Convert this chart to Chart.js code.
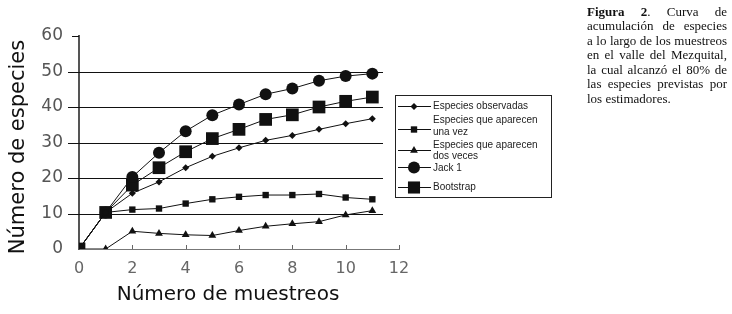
<!DOCTYPE html>
<html><head><meta charset="utf-8">
<script src="https://cdn.jsdelivr.net/npm/chart.js@4/dist/chart.umd.min.js"></script>
<style>
html,body{margin:0;padding:0;background:#fff;}
#wrap{position:relative;width:732px;height:314px;overflow:hidden;}
#c{position:absolute;left:0;top:0;}
#cap{position:absolute;left:587px;top:4.5px;width:140px;font-family:"Liberation Serif";font-size:13px;line-height:14.5px;color:#111;}
#cap div{text-align:justify;text-align-last:justify;white-space:nowrap;}
#cap div.last{text-align:left;text-align-last:left;}
</style></head>
<body><div id="wrap"><canvas id="c" width="732" height="314"></canvas><div id="cap"></div></div>
<script>
// ---- data ----
const muestreos = [0,1,2,3,4,5,6,7,8,9,10,11];
const observadas = [0,10.3,15.7,18.9,22.9,26.1,28.5,30.6,32.0,33.7,35.3,36.7];
const unaVez     = [0,10.3,11.1,11.4,12.8,14.0,14.7,15.2,15.2,15.5,14.5,14.0];
const dosVeces   = [0,0,5.0,4.4,4.0,3.8,5.2,6.4,7.1,7.7,9.6,10.8];
const jack1      = [0,10.3,20.3,27.1,33.2,37.7,40.7,43.6,45.2,47.4,48.7,49.4];
const bootstrap  = [0,10.3,18.0,22.9,27.4,31.1,33.7,36.5,37.8,40.0,41.6,42.8];
const yTicks = [0,10,20,30,40,50,60];
const xTicks = [0,2,4,6,8,10,12];
const serieNames = ["Especies observadas","Especies que aparecen una vez","Especies que aparecen dos veces","Jack 1","Bootstrap"];
const legendLines = [["Especies observadas"],["Especies que aparecen","una vez"],["Especies que aparecen","dos veces"],["Jack 1"],["Bootstrap"]];
const xTitle = "Número de muestreos";
const yTitle = "Número de especies";
const captionLines = ["<b>Figura 2</b>. Curva de","acumulación de especies","a lo largo de los muestreos","en el valle del Mezquital,","la cual alcanzó el 80% de","las especies previstas por","los estimadores."];

// caption (justified lines; over-long lines tightened to fit)
const cap = document.getElementById('cap');
captionLines.forEach((t,i)=>{
  const d=document.createElement('div');
  const s=document.createElement('span');
  s.innerHTML=t;
  d.appendChild(s);
  if(i===captionLines.length-1) d.className='last';
  cap.appendChild(d);
  const w=s.getBoundingClientRect().width;
  if(w>140){
    const n=s.textContent.length;
    d.style.letterSpacing=((140-w)/n).toFixed(3)+'px';
  }
});

const seriesValues = [observadas, unaVez, dosVeces, jack1, bootstrap];
const styles = [
  {pointStyle:'rectRot', radius:3.5},
  {pointStyle:'rect', radius:4.5},
  {pointStyle:'triangle', radius:4.5},
  {pointStyle:'circle', radius:6},
  {pointStyle:'rect', radius:9}
];
const datasets = seriesValues.map((vals,i)=>({
  label: serieNames[i],
  data: muestreos.map((m,j)=>({x:m,y:vals[j]})),
  borderColor:'#111', backgroundColor:'#111', borderWidth:1,
  pointStyle: styles[i].pointStyle, pointRadius: styles[i].radius,
  pointBackgroundColor:'#111', pointBorderColor:'#111', pointBorderWidth:0,
  tension:0, fill:false
}));

const F = "'DejaVu Sans'";
const decor = {
  id:'decor',
  beforeDatasetsDraw(chart){
    const {ctx, chartArea:a, scales:{x,y}} = chart;
    ctx.save();
    ctx.strokeStyle='#111'; ctx.lineWidth=1;
    yTicks.forEach(v=>{
      const py=Math.round(y.getPixelForValue(v))+0.5;
      if(v>0 && v<60){
        ctx.beginPath(); ctx.moveTo(a.left-11,py); ctx.lineTo(x.getPixelForValue(11.4),py); ctx.stroke();
      } else if(v===60){
        ctx.beginPath(); ctx.moveTo(a.left-7,py); ctx.lineTo(a.left,py); ctx.stroke();
      }
    });
    ctx.strokeStyle='#666';
    xTicks.forEach(v=>{
      if(v===0) return;
      const px=Math.round(x.getPixelForValue(v))+0.5;
      const py=y.getPixelForValue(0);
      ctx.beginPath(); ctx.moveTo(px,py); ctx.lineTo(px,py-4); ctx.stroke();
    });
    ctx.restore();
  },
  afterDraw(chart){
    const {ctx, chartArea:a} = chart;
    ctx.save();
    // axis titles
    ctx.fillStyle='#111';
    ctx.font="20px "+F;
    ctx.textAlign='center'; ctx.textBaseline='middle';
    ctx.fillText(xTitle, 228, 295);
    ctx.translate(19,147); ctx.rotate(-Math.PI/2);
    ctx.font="21px "+F;
    ctx.fillText(yTitle,0,0);
    ctx.setTransform(1,0,0,1,0,0);
    // legend
    const bx=395.5, by=95.5, bw=156, bh=102;
    ctx.fillStyle='#fff'; ctx.fillRect(bx,by,bw,bh);
    ctx.strokeStyle='#222'; ctx.lineWidth=1; ctx.strokeRect(bx,by,bw,bh);
    const markerY=[106,129,150,167,187];
    const textY=[[106],[120,132],[145,156],[168],[187]];
    ctx.font="10px 'Liberation Sans'"; ctx.textAlign='left'; ctx.textBaseline='middle';
    chart.data.datasets.forEach((ds,i)=>{
      ctx.strokeStyle='#111'; ctx.lineWidth=1;
      ctx.beginPath(); ctx.moveTo(398,markerY[i]+0.5); ctx.lineTo(431,markerY[i]+0.5); ctx.stroke();
      ctx.fillStyle='#111';
      Chart.helpers.drawPoint(ctx,{pointStyle:ds.pointStyle, radius:ds.pointRadius*(i===4?0.95:1), rotation:0, borderWidth:0}, 414, markerY[i]+0.5);
      ctx.fillStyle='#222';
      legendLines[i].forEach((t,k)=>ctx.fillText(t,433,textY[i][k]));
    });
    ctx.restore();
  }
};

new Chart(document.getElementById('c'), {
  type:'line',
  data:{datasets},
  options:{
    responsive:false, animation:false,
    layout:{padding:{left:0, top:36, right:333, bottom:0}},
    plugins:{legend:{display:false}, tooltip:{enabled:false}},
    scales:{
      x:{type:'linear', min:0, max:12,
        afterFit(s){s.height=65;},
        ticks:{stepSize:2, color:'#666', font:{family:"DejaVu Sans", size:16}, padding:10, maxRotation:0, autoSkip:false},
        grid:{display:false, drawTicks:false},
        border:{display:true, color:'#777', width:1}
      },
      y:{min:0, max:60,
        afterFit(s){s.width=79;},
        ticks:{stepSize:10, color:'#555', font:{family:"DejaVu Sans", size:17}, padding:16},
        grid:{display:false, drawTicks:false},
        border:{display:true, color:'#555', width:2}
      }
    }
  },
  plugins:[decor]
});
</script>
</body></html>
